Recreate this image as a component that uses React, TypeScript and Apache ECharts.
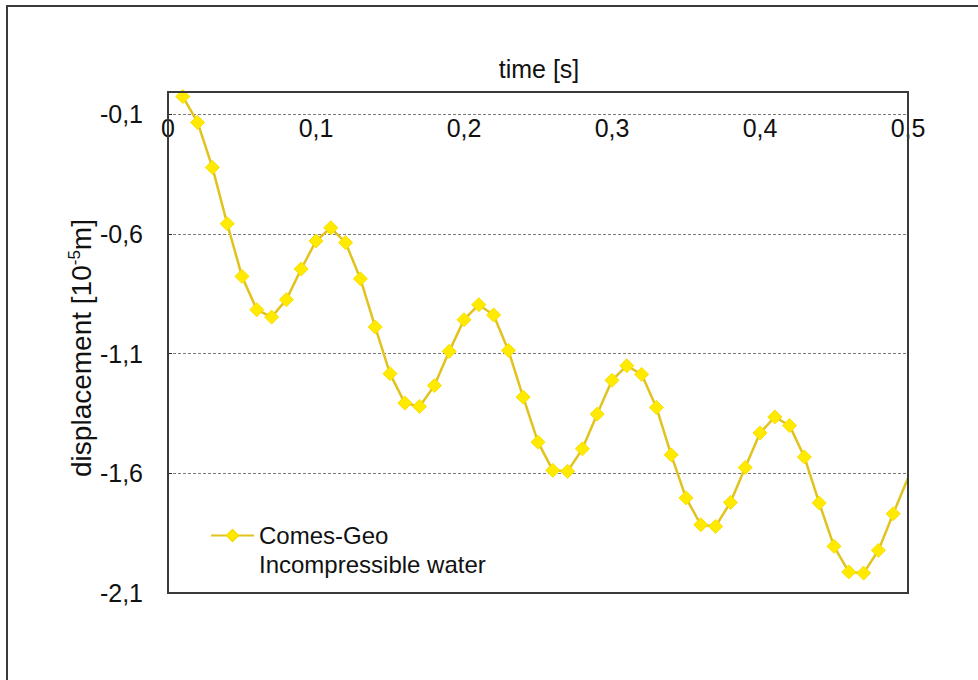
import React, { useEffect, useRef } from "react";
import * as echarts from "echarts";

// Sampled time instants [s]
const TIME = [
  0.01, 0.02, 0.03, 0.04, 0.05, 0.06, 0.07, 0.08, 0.09, 0.1,
  0.11, 0.12, 0.13, 0.14, 0.15, 0.16, 0.17, 0.18, 0.19, 0.2,
  0.21, 0.22, 0.23, 0.24, 0.25, 0.26, 0.27, 0.28, 0.29, 0.3,
  0.31, 0.32, 0.33, 0.34, 0.35, 0.36, 0.37, 0.38, 0.39, 0.4,
  0.41, 0.42, 0.43, 0.44, 0.45, 0.46, 0.47, 0.48, 0.49, 0.5,
];

// Displacement [10^-5 m], Comes-Geo, incompressible water
const DISPLACEMENT = [
  -0.027, -0.135, -0.323, -0.558, -0.778, -0.917, -0.948, -0.875, -0.747, -0.63,
  -0.575, -0.637, -0.788, -0.989, -1.184, -1.307, -1.321, -1.234, -1.091, -0.959,
  -0.896, -0.939, -1.087, -1.282, -1.47, -1.588, -1.592, -1.498, -1.353, -1.212,
  -1.151, -1.187, -1.325, -1.523, -1.703, -1.815, -1.822, -1.722, -1.576, -1.432,
  -1.365, -1.401, -1.532, -1.724, -1.905, -2.012, -2.017, -1.922, -1.769, -1.62,
];

const SERIES_NAME = "Comes-Geo";
const SERIES_NOTE = "Incompressible water";
const X_TITLE = "time [s]";

const FONT = "'Liberation Sans', Arial, Helvetica, sans-serif";

const fmt = (v: number) => (v === 0 ? "0" : v.toFixed(1).replace(".", ","));

export default function App() {
  const ref = useRef<HTMLDivElement>(null);

  useEffect(() => {
    if (!ref.current) return;
    const chart = echarts.init(ref.current, undefined, { renderer: "svg" });

    const yMin = -2.1;
    const yMax = -0.008;
    const gridTop = 92;
    const gridBottom = 87;
    const gridHeight = 680 - gridTop - gridBottom;
    // shift of the time axis down to the -0,1 line
    const axisShift = ((yMax - -0.1) / (yMax - yMin)) * gridHeight;

    const data = TIME.map((t, i) =>
      i === TIME.length - 1
        ? { value: [t, DISPLACEMENT[i]], symbol: "none" }
        : { value: [t, DISPLACEMENT[i]] }
    );

    chart.setOption({
      animation: false,
      backgroundColor: "#ffffff",
      textStyle: { fontFamily: FONT },
      grid: { left: 168, right: 70, top: gridTop, bottom: gridBottom, containLabel: false },
      xAxis: {
        type: "value",
        min: 0,
        max: 0.5,
        interval: 0.1,
        position: "top",
        offset: -axisShift,
        axisLine: { show: false },
        axisTick: { show: false },
        splitLine: { show: false },
        axisLabel: {
          inside: true,
          margin: 1,
          fontSize: 25,
          lineHeight: 25,
          color: "#111",
          fontFamily: FONT,
          formatter: (v: number) => fmt(v),
        },
      },
      yAxis: {
        type: "value",
        min: yMin,
        max: yMax,
        interval: 0.5,
        axisLine: { show: false },
        axisTick: { show: true, inside: true, length: 4, lineStyle: { color: "#222" } },
        splitLine: { show: true, lineStyle: { color: "#7a7a7a", width: 1, type: [3, 2] } },
        axisLabel: {
          margin: 25,
          fontSize: 25,
          color: "#111",
          fontFamily: FONT,
          formatter: (v: number) => (v > -0.05 ? "" : fmt(v)),
        },
      },
      legend: {
        orient: "vertical",
        left: 210,
        top: 521,
        padding: 0,
        itemGap: 0,
        itemWidth: 43,
        itemHeight: 14,
        selectedMode: false,
        textStyle: { fontSize: 24, lineHeight: 29, color: "#111", fontFamily: FONT },
        data: [{ name: SERIES_NAME }, { name: SERIES_NOTE, icon: "none" }],
      },
      series: [
        {
          name: SERIES_NAME,
          type: "line",
          data,
          symbol: "diamond",
          symbolSize: 14,
          clip: false,
          itemStyle: { color: "#FFEA00", borderColor: "#F8DF00", borderWidth: 1 },
          lineStyle: { color: "#E2C21C", width: 2.5 },
          z: 3,
        },
        { name: SERIES_NOTE, type: "line", data: [], itemStyle: { color: "#FFEA00" } },
      ],
      graphic: [
        // outer chart frame
        {
          type: "rect",
          z: 100,
          silent: true,
          shape: { x: 7, y: 6, width: 1000, height: 700 },
          style: { fill: "none", stroke: "#3a3a3a", lineWidth: 2 },
        },
        // plot area frame
        {
          type: "rect",
          z: 100,
          silent: true,
          shape: { x: 168, y: gridTop, width: 978 - 168 - 70, height: gridHeight },
          style: { fill: "none", stroke: "#3a3a3a", lineWidth: 2 },
        },
        {
          type: "text",
          z: 100,
          x: 539,
          y: 69,
          style: {
            text: X_TITLE,
            fontSize: 25,
            fontFamily: FONT,
            fill: "#111",
            align: "center",
            verticalAlign: "middle",
          },
        },
        {
          type: "text",
          z: 100,
          x: 81,
          y: 348,
          rotation: Math.PI / 2,
          style: {
            text: "displacement [10{sup|-5}m]",
            fontSize: 28,
            fontFamily: FONT,
            fill: "#111",
            align: "center",
            verticalAlign: "middle",
            rich: {
              sup: { fontSize: 17, fontFamily: FONT, fill: "#111", verticalAlign: "top", lineHeight: 31 },
            },
          },
        },
      ],
    });

    return () => chart.dispose();
  }, []);

  return (
    <div
      ref={ref}
      style={{ position: "fixed", left: 0, top: 0, width: 978, height: 680, background: "#fff" }}
    />
  );
}
